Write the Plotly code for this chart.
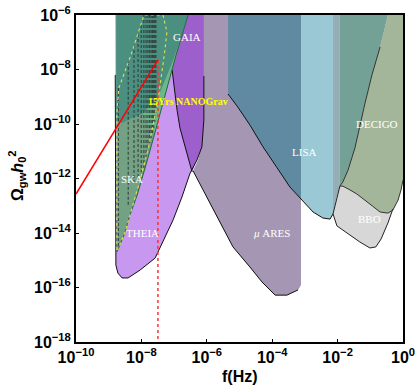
import numpy as np
import plotly.graph_objects as go

# ---------------- data (log10 f [Hz], log10 Omega_gw h0^2) ----------------
# mu-ARES region
MUARES_LF = [-6.12, -3.12, -3.12, -3.21, -3.55, -3.91, -4.31, -4.68, -5.20, -5.69, -6.12, -6.42, -6.27, -6.15, -6.09, -6.09]
MUARES_LO = [-6, -6, -15.91, -16.09, -16.28, -16.28, -15.80, -15.25, -14.51, -13.41, -12.42, -11.72, -11.32, -10.77, -9.85, -8.24]
# LISA region
LISA_LF = [-5.35, -2.14, -2.14, -2.23, -2.45, -2.75, -3.09, -3.46, -3.85, -4.28, -4.68, -5.05, -5.35]
LISA_LO = [-6, -6, -13.30, -13.49, -13.45, -13.23, -12.79, -12.31, -11.61, -10.84, -10.04, -9.38, -8.90]
# BBO region
BBO_LF = [-1.93, -2.14, -2.02, -1.71, -1.32, -1.01, -0.83, -0.67, -0.46, -0.31, -0.15, 0, 0, -1.93]
BBO_LO = [-12.28, -13.30, -13.74, -14.00, -14.33, -14.55, -14.51, -14.22, -13.63, -13.12, -12.72, -12.06, -6, -6]
# LISA / BBO overlap band
BAND_LF = [-2.14, -1.93, -1.93, -2.05, -2.14]
BAND_LO = [-6, -6, -12.28, -12.79, -13.30]
# region left of the DECIGO edge
TEALB_LF = [-1.93, -0.46, -0.70, -0.95, -1.16, -1.32, -1.47, -1.68, -1.84, -1.93]
TEALB_LO = [-6, -6, -7.17, -8.20, -9.23, -10.11, -10.88, -11.69, -12.13, -12.28]
# DECIGO region
DECIGO_LF = [-0.46, 0, 0, -0.06, -0.15, -0.31, -0.46, -0.70, -1.01, -1.41, -1.62, -1.84, -1.93,
             -1.84, -1.68, -1.47, -1.32, -1.16, -0.95, -0.70]
DECIGO_LO = [-6, -6, -12.06, -12.42, -12.79, -13.16, -13.27, -13.23, -12.94, -12.57, -12.42, -12.28, -12.28,
             -12.13, -11.69, -10.88, -10.11, -9.23, -8.20, -7.17]
# THEIA region
THEIA_LF = [-8.80, -8.80, -8.78, -8.72, -8.59, -8.41, -8.04, -7.58, -7.37, -7.03, -6.76, -6.51, -6.30, -6.15, -6.09, -6.09, -6.09]
THEIA_LO = [-6, -14.62, -15.18, -15.47, -15.65, -15.65, -15.36, -14.92, -14.37, -13.52, -12.68, -11.80, -11.32, -10.84, -9.85, -8.24, -6]
# GAIA x THEIA (dark purple)
GAIA_LF = [-6.57, -6.09, -6.09, -6.09, -6.15, -6.30, -6.45, -6.64, -6.82, -6.91, -7.00, -7.06, -6.94]
GAIA_LO = [-6, -6, -8.24, -9.85, -10.84, -11.32, -11.76, -10.95, -10.15, -9.49, -8.57, -8.02, -7.47]
# SKA right edge
SKA_EDGE_LF = [-6.57, -6.94, -7.25, -7.43, -7.58, -7.86, -8.13, -8.35, -8.53, -8.75]
SKA_EDGE_LO = [-6, -7.47, -8.83, -9.67, -10.29, -11.50, -12.61, -13.34, -14.07, -14.70]
SKA_LEFT_LF = -8.77
# upper (teal) region
TEAL_LF = [-8.77, -6.57, -6.82, -7.03, -7.28, -7.49, -7.74, -7.95, -8.29, -8.59, -8.77]
TEAL_LO = [-6, -6, -6.92, -7.65, -8.39, -9.01, -9.34, -9.60, -9.78, -9.96, -9.93]
# light green band
LG_LF = [-6.57, -6.94, -7.25, -7.43, -7.58, -7.80, -7.95, -7.74, -7.49, -7.28, -7.03, -6.82]
LG_LO = [-6, -7.47, -8.83, -9.67, -10.29, -10.04, -9.60, -9.34, -9.01, -8.39, -7.65, -6.92]
# NANOGrav 15 yr envelope
NG_LF = [-8.75, -8.75, -8.69, -8.32, -7.95, -7.92, -7.34, -7.22, -7.28, -7.37, -7.49, -7.61, -7.80, -8.04, -8.26, -8.50, -8.72]
NG_LO = [-14.62, -9.60, -8.68, -7.47, -6.11, -6, -6, -6.62, -7.28, -8.02, -9.12, -9.85, -10.95, -12.06, -12.97, -13.96, -14.62]
# NANOGrav 15 yr frequency bins and ranges
PTA_F = [1.98e-9, 3.96e-9, 5.94e-9, 7.92e-9, 9.90e-9, 1.19e-8, 1.39e-8, 1.58e-8, 1.78e-8, 1.98e-8, 2.18e-8, 2.38e-8, 2.57e-8, 2.77e-8]
PTA_TOP_LO = [-8.68, -7.72, -7.10, -6.70, -6.37, -6, -6, -6, -6, -6, -6, -6, -6, -6]
PTA_BOT_LO = [-14.62, -12.97, -12.24, -11.98, -11.76, -11.61, -11.32, -10.95, -10.77, -10.59, -10.33, -10.15, -9.93, -9.67]
# power-law signal
RED_F = [1e-10, 3.2e-8]
RED_OMEGA = [2.69e-13, 2.24e-8]
PEAK_F = 3.2e-8
OMEGA_MIN = 1e-18

# tick labels (decade exponents)
X_TICK_EXP = [-10, -8, -6, -4, -2, 0]
Y_TICK_EXP = [-18, -16, -14, -12, -10, -8, -6]

LABELS = [("GAIA", -6.61, -6.81), ("SKA", -8.29, -12.02), ("THEIA", -7.98, -14.00),
          ("<i>μ</i> ARES", -4.01, -14.00), ("LISA", -3.00, -11.03), ("DECIGO", -0.80, -10.00),
          ("BBO", -1.01, -13.49)]
NG_LABEL = ("15Yrs NANOGrav", -6.59, -9.19)

P = lambda a: np.power(10.0, np.asarray(a, dtype=float))

fig = go.Figure()


def fill(lf, lo, color):
    fig.add_trace(go.Scatter(x=P(lf), y=P(lo), mode="lines", fill="toself", fillcolor=color,
                             line=dict(width=0), hoverinfo="skip"))


def line(lf, lo, color="black", width=1.0, dash=None):
    fig.add_trace(go.Scatter(x=P(lf), y=P(lo), mode="lines",
                             line=dict(color=color, width=width, dash=dash), hoverinfo="skip"))


def clip_left(xs, ys, c):
    out = []
    n = len(xs)
    for i in range(n):
        x1, y1 = xs[i], ys[i]
        x2, y2 = xs[(i + 1) % n], ys[(i + 1) % n]
        in1, in2 = x1 <= c, x2 <= c
        if in1:
            out.append((x1, y1))
        if in1 != in2:
            t = (c - x1) / (x2 - x1)
            out.append((c, y1 + t * (y2 - y1)))
    return [p[0] for p in out], [p[1] for p in out]


def pow_label(e):
    return "10<sup>" + ("\u2212" + str(-e) if e < 0 else str(e)) + "</sup>"


# right group
fill(BBO_LF, BBO_LO, "#D7D7D7")
fill(BAND_LF, BAND_LO, "#95AEB5")
fill(TEALB_LF, TEALB_LO, "#74A195")
fill(DECIGO_LF, DECIGO_LO, "#A3B69A")
fill(MUARES_LF, MUARES_LO, "#A596B3")
fill(LISA_LF, LISA_LO, "#9AC8D4")
ox, oy = clip_left(LISA_LF, LISA_LO, max(MUARES_LF))
fill(ox, oy, "#5F8AA1")

# left group
fill(THEIA_LF, THEIA_LO, "#C897EF")
fill(GAIA_LF, GAIA_LO, "#9D5FCB")
fill([SKA_LEFT_LF] + SKA_EDGE_LF + [SKA_LEFT_LF], [-6] + SKA_EDGE_LO + [SKA_EDGE_LO[-1]], "#72A184")
fill(LG_LF, LG_LO, "#6BB98A")
fill(TEAL_LF, TEAL_LO, "#4B8F80")

# outlines
line(BBO_LF[:10], BBO_LO[:10], "#222222")
line(DECIGO_LF[13:][::-1] + [DECIGO_LF[12]] + DECIGO_LF[2:12][::-1],
     DECIGO_LO[13:][::-1] + [DECIGO_LO[12]] + DECIGO_LO[2:12][::-1], "#333333")
line(LISA_LF[2:][::-1], LISA_LO[2:][::-1], "#111111")
line(MUARES_LF[3:12][::-1], MUARES_LO[3:12][::-1], "#111111")
line([THEIA_LF[0], THEIA_LF[1]] + THEIA_LF[2:16], [-8.2, THEIA_LO[1]] + THEIA_LO[2:16], "#111111")
line(GAIA_LF[6:12], GAIA_LO[6:12], "#111111")
line(SKA_EDGE_LF, SKA_EDGE_LO, "#1F6B3A")

# NANOGrav 15 yr
for f, t, b in zip(PTA_F, PTA_TOP_LO, PTA_BOT_LO):
    fig.add_trace(go.Scatter(x=[f, f], y=P([t, b]), mode="lines",
                             line=dict(color="rgba(45,45,45,0.75)", width=1.2, dash="3px,2px"),
                             hoverinfo="skip"))
line(NG_LF, NG_LO, "#E2E24A", 1.1, "dot")

# signal
fig.add_trace(go.Scatter(x=[PEAK_F, PEAK_F], y=[RED_OMEGA[1], OMEGA_MIN], mode="lines",
                         line=dict(color="#FF3030", width=1.5, dash="dot"), hoverinfo="skip"))
fig.add_trace(go.Scatter(x=RED_F, y=RED_OMEGA, mode="lines",
                         line=dict(color="#FF0000", width=1.5), hoverinfo="skip"))

for txt, lx, ly in LABELS:
    fig.add_annotation(x=lx, y=ly, text=txt, showarrow=False,
                       font=dict(family="Liberation Serif", size=11, color="white"))
fig.add_annotation(x=NG_LABEL[1], y=NG_LABEL[2], text=NG_LABEL[0], showarrow=False,
                   font=dict(family="Liberation Serif", size=10, color="#FFFF00", weight="bold"))

fig.add_annotation(xref="paper", yref="paper", x=0.5, y=-0.107, xanchor="center", yanchor="middle",
                   text="f(Hz)", showarrow=False,
                   font=dict(family="Liberation Sans", size=16, color="black", weight="bold"))
fig.add_annotation(xref="paper", yref="paper", x=-0.18, y=0.508, xanchor="center", yanchor="middle",
                   textangle=-90, text="Ω<sub>gw</sub><i>h</i><sub>0</sub><sup>2</sup>", showarrow=False,
                   font=dict(family="Liberation Sans", size=16, color="black", weight="bold"))

axis_common = dict(type="log", showgrid=False, zeroline=False,
                   showline=True, linecolor="black", linewidth=2, mirror=True, automargin=False,
                   ticks="inside", ticklen=3, tickcolor="black", tickwidth=1,
                   tickfont=dict(family="Liberation Sans", size=16, color="black", weight="bold"))
fig.update_xaxes(range=[-10, 0], tickmode="array", tickvals=P(X_TICK_EXP).tolist(),
                 ticktext=[pow_label(e) for e in X_TICK_EXP], **axis_common)
fig.update_yaxes(range=[-18, -6], tickmode="array", tickvals=P(Y_TICK_EXP).tolist(),
                 ticktext=[pow_label(e) for e in Y_TICK_EXP], **axis_common)

fig.update_layout(width=417, height=387, margin=dict(l=76, r=14, t=15, b=45),
                  paper_bgcolor="white", plot_bgcolor="white", showlegend=False)

# remove the default page margin so the figure fills the window exactly
fig.write_html("out.html", config={"displayModeBar": False},
               post_script="document.body.style.margin='0px';")
